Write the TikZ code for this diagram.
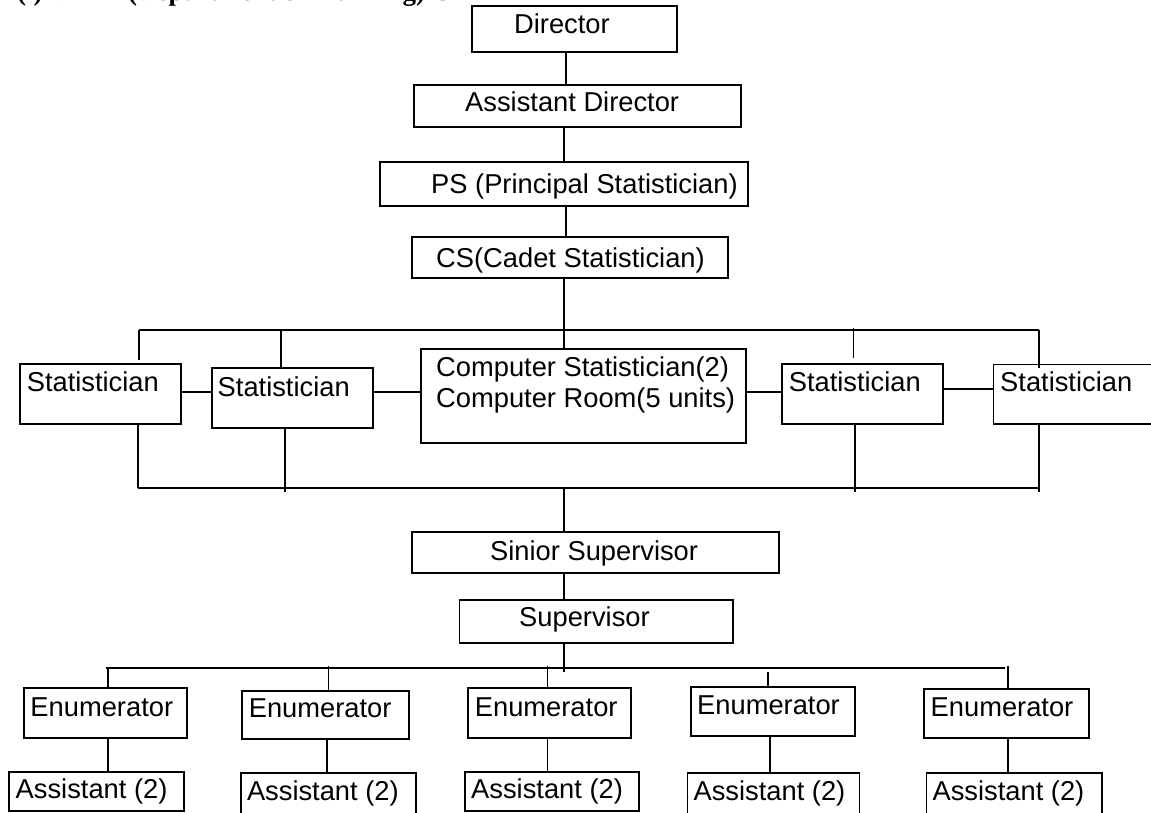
\documentclass[tikz,border=0pt]{standalone}
\usepackage{fontspec}
\setmainfont{Liberation Sans}
\newfontfamily\hdrfont{Liberation Serif}
\tikzset{
  box/.style={draw=black, line width=1.8pt, inner sep=0pt, rectangle},
  lbl/.style={anchor=base west, inner sep=0pt, font=\fontsize{27.3}{31}\selectfont},
  hdr/.style={anchor=base west, inner sep=0pt, font=\hdrfont\bfseries\fontsize{27}{32}\selectfont},
  conn/.style={draw=black, line width=1.8pt}
}
\newcommand{\bx}[5]{\node[box, minimum width={(#4-#2)*1pt}, minimum height={(#5-#3)*1pt}] (#1) at ({(#2+#4)/2},{(#3+#5)/2}) {};}
\newcommand{\tx}[4]{\node[lbl] (#1) at (#2,#3) {#4};}
\begin{document}
\begin{tikzpicture}[x=1pt, y=-1pt]
\useasboundingbox (0,0) rectangle (1151,812);
\fill[white] (0,0) rectangle (1151,812);
% header (clipped at the top edge, as in the source)
\node[hdr] (h1) at (17,0.5) {(i) DP};
\node[hdr] (h2) at (128,0.5) {(Department of Planning) C};
% boxes
\bx{director}{472}{6}{677}{52}
\bx{ad}{414}{85}{741}{127}
\bx{ps}{380}{162}{748}{206}
\bx{cs}{412}{237}{728}{278}
\bx{stat1}{20}{364}{181}{424}
\bx{stat2}{212}{368}{373}{428}
\bx{comp}{421}{349}{746}{443}
\bx{stat3}{782}{364}{943}{424}
\bx{stat4}{993.5}{364.5}{1175}{424}
\bx{sinior}{412}{532}{779}{573}
\bx{sup}{459.5}{600}{733}{643}
\bx{e1}{24}{688}{187}{738}
\bx{e2}{242}{691}{409}{739}
\bx{e3}{468}{688}{631}{738}
\bx{e4}{691}{687}{855}{736}
\bx{e5}{924}{689}{1089}{738}
\bx{a1}{9}{772}{184}{811}
\bx{a2}{241}{773}{416}{840}
\bx{a3}{465}{772}{639}{811}
\bx{a4}{687.5}{773}{859.4}{840}
\bx{a5}{926.4}{773}{1101.7}{840}
% texts
\tx{director-t}{514}{33.3}{Director}
\tx{ad-t}{465}{111.7}{Assistant Director}
\tx{ps-t}{431}{193.3}{PS (Principal Statistician)}
\tx{cs-t}{436}{267}{CS(Cadet Statistician)}
\tx{stat1-t}{26.6}{391.7}{Statistician}
\tx{stat2-t}{217.5}{396}{Statistician}
\tx{comp-t1}{436}{376.7}{Computer Statistician(2)}
\tx{comp-t2}{436}{407.7}{Computer Room(5 units)}
\tx{stat3-t}{788.6}{391.7}{Statistician}
\tx{stat4-t}{1000}{391.7}{Statistician}
\tx{sinior-t}{490}{560}{Sinior Supervisor}
\tx{sup-t}{519}{626.7}{Supervisor}
\tx{e1-t}{30.3}{716}{Enumerator}
\tx{e2-t}{248.6}{717.7}{Enumerator}
\tx{e3-t}{474.7}{716}{Enumerator}
\tx{e4-t}{697}{714.3}{Enumerator}
\tx{e5-t}{930.5}{716.7}{Enumerator}
\tx{a1-t}{15.5}{798.3}{Assistant (2)}
\tx{a2-t}{246.8}{800}{Assistant (2)}
\tx{a3-t}{471}{798}{Assistant (2)}
\tx{a4-t}{693.4}{800}{Assistant (2)}
\tx{a5-t}{932.4}{800}{Assistant (2)}
% vertical axis coordinates
\coordinate (xa) at (566,0);
\coordinate (xb) at (564.3,0);
% spine
\draw[conn] (director.south -| xa) -- (ad.north -| xa);
\draw[conn] (ad.south -| xb) -- (ps.north -| xb);
\draw[conn] (ps.south -| xa) -- (cs.north -| xa);
\draw[conn] (cs.south -| xb) -- (comp.north -| xb);
% top bar of statisticians
\coordinate (tbL) at (139,330);
\coordinate (tbR) at (1039,330);
\draw[conn] (tbL) -- (tbR);
\coordinate (d1) at (139,360);
\draw[conn] (tbL) -- (d1);
\coordinate (d2t) at (281,330);
\draw[conn] (d2t) -- (stat2.north -| d2t);
\coordinate (d3t) at (853.4,328);
\coordinate (d3b) at (853.4,358);
\draw[conn] (d3t) -- (d3b);
\draw[conn] (tbR) -- ([yshift=-4pt]stat4.north -| tbR);
% side links
\draw[conn] (stat1.east |- 0,391.7) -- (stat2.west |- 0,391.7);
\draw[conn] (stat2.east |- 0,391.7) -- (comp.west |- 0,391.7);
\draw[conn] (comp.east |- 0,391.7) -- (stat3.west |- 0,391.7);
\draw[conn] (stat3.east |- 0,389.3) -- (stat4.west |- 0,389.3);
% bottom bar of statisticians
\coordinate (bbL) at (137.6,488.3);
\coordinate (bbR) at (1039,488.3);
\draw[conn] (bbL) -- (bbR);
\draw[conn] (stat1.south -| bbL) -- (bbL);
\coordinate (b2) at (285,491.7);
\draw[conn] (stat2.south -| b2) -- (b2);
\coordinate (b3) at (855.3,491.7);
\draw[conn] (stat3.south -| b3) -- (b3);
\coordinate (b4) at (1039,491.7);
\draw[conn] (stat4.south -| b4) -- (b4);
% down to supervisors
\draw[conn] (bbL -| xb) -- (sinior.north -| xb);
\draw[conn] (sinior.south -| xb) -- (sup.north -| xb);
\coordinate (sb) at (564.3,671.7);
\draw[conn] (sup.south -| sb) -- (sb);
% enumerator bar
\coordinate (ebL) at (106,667.7);
\coordinate (ebR) at (1005.3,667.7);
\draw[conn] (ebL) -- (ebR);
\coordinate (x1) at (108,667.7);
\coordinate (x2) at (328.5,665.7);
\coordinate (x3) at (547.5,665.7);
\coordinate (x4) at (768.2,671.7);
\coordinate (x5) at (1008.3,665.7);
\draw[conn] (x1) -- (e1.north -| x1);
\draw[conn] (x2) -- (e2.north -| x2);
\draw[conn] (x3) -- (e3.north -| x3);
\draw[conn] (x4) -- (e4.north -| x4);
\draw[conn] (x5) -- (e5.north -| x5);
% enumerator to assistants
\coordinate (y2) at (326.7,0);
\coordinate (y4) at (770,0);
\draw[conn] (e1.south -| x1) -- (a1.north -| x1);
\draw[conn] (e2.south -| y2) -- (a2.north -| y2);
\draw[conn] (e3.south -| x3) -- (a3.north -| x3);
\draw[conn] (e4.south -| y4) -- (a4.north -| y4);
\draw[conn] (e5.south -| x5) -- (a5.north -| x5);
\end{tikzpicture}
\end{document}
